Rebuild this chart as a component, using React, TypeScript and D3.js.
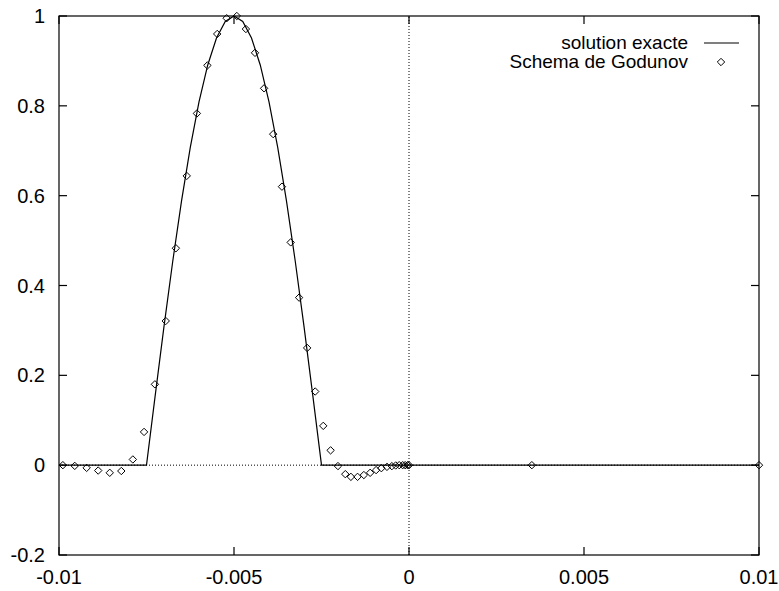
import React from "react";
import * as d3 from "d3";

const xTicks = [-0.01, -0.005, 0, 0.005, 0.01];
const xTickLabels = ["-0.01", "-0.005", "0", "0.005", "0.01"];
const yTicks = [-0.2, 0, 0.2, 0.4, 0.6, 0.8, 1];
const yTickLabels = ["-0.2", "0", "0.2", "0.4", "0.6", "0.8", "1"];

const exactX = [
  -0.01, -0.0075, -0.00725, -0.007, -0.00675, -0.0065, -0.00625, -0.006, -0.00575,
  -0.0055, -0.00525, -0.005, -0.00475, -0.0045, -0.00425, -0.004, -0.00375, -0.0035,
  -0.00325, -0.003, -0.00275, -0.0025, 0.01,
];
const exactY = [
  0, 0, 0.156, 0.309, 0.454, 0.588, 0.707, 0.809, 0.891, 0.951, 0.988, 1, 0.988,
  0.951, 0.891, 0.809, 0.707, 0.588, 0.454, 0.309, 0.156, 0, 0,
];

const godX = [
  -0.00989, -0.00955, -0.00921, -0.00888, -0.00855, -0.00822, -0.00789, -0.00757,
  -0.00726, -0.00695, -0.00666, -0.00635, -0.00606, -0.00576, -0.00548, -0.00521,
  -0.00492, -0.00466, -0.0044, -0.00414, -0.00388, -0.00363, -0.00338, -0.00314,
  -0.00291, -0.00268, -0.00245, -0.00224, -0.00203, -0.00182, -0.00166, -0.00147,
  -0.00129, -0.00111, -0.00094, -0.00079, -0.00063, -0.00049, -0.00038, -0.00028,
  -0.00018, -0.00011, -0.00004, 0.0, 0.00351, 0.01,
];
const godY = [
  0, -0.0016, -0.006, -0.012, -0.017, -0.013, 0.0127, 0.074, 0.18, 0.321, 0.483,
  0.644, 0.783, 0.89, 0.96, 0.995, 1.0, 0.971, 0.918, 0.839, 0.737, 0.62, 0.496,
  0.373, 0.261, 0.164, 0.0875, 0.033, -0.002, -0.02, -0.026, -0.026, -0.022,
  -0.017, -0.011, -0.0067, -0.0038, -0.0022, -0.0007, 0, 0, 0, 0, 0, 0, 0,
];

const seriesNames = ["solution exacte", "Schema de Godunov"];

const W = 779;
const H = 591;
const FONT = "'Liberation Sans', Arial, Helvetica, sans-serif";

export default function App() {
  const x = d3.scaleLinear().domain([-0.01, 0.01]).range([59, 759]);
  const y = d3.scaleLinear().domain([-0.2, 1]).range([555, 16]);
  const [x0, x1] = x.range();
  const [y0, y1] = y.range();
  const tickLen = 8;

  const exactData = exactX.map((v, i) => [v, exactY[i]] as [number, number]);
  const line = d3
    .line<[number, number]>()
    .x((d) => x(d[0]))
    .y((d) => y(d[1]));

  const diamond = (cx: number, cy: number, r = 3.7) =>
    `M${cx},${cy - r}L${cx + r},${cy}L${cx},${cy + r}L${cx - r},${cy}Z`;

  return (
    <svg
      width={W}
      height={H}
      style={{ position: "absolute", left: 0, top: 0, background: "#fff" }}
      fontFamily={FONT}
    >
      <rect x={0} y={0} width={W} height={H} fill="#fff" />
      {/* zero axes */}
      <line x1={x0} x2={x1} y1={y(0)} y2={y(0)} stroke="#000" strokeWidth={1} strokeDasharray="1,2" />
      <line x1={x(0)} x2={x(0)} y1={y0} y2={y1} stroke="#000" strokeWidth={1} strokeDasharray="1,2" />

      {/* ticks */}
      {xTicks.map((t, i) => (
        <g key={"xt" + i}>
          <line x1={x(t)} x2={x(t)} y1={y0} y2={y0 - tickLen} stroke="#000" strokeWidth={1.2} />
          <line x1={x(t)} x2={x(t)} y1={y1} y2={y1 + tickLen} stroke="#000" strokeWidth={1.2} />
          <text x={x(t)} y={584} textAnchor="middle" fontSize={20}>
            {xTickLabels[i]}
          </text>
        </g>
      ))}
      {yTicks.map((t, i) => (
        <g key={"yt" + i}>
          <line x1={x0} x2={x0 + tickLen} y1={y(t)} y2={y(t)} stroke="#000" strokeWidth={1.2} />
          <line x1={x1} x2={x1 - tickLen} y1={y(t)} y2={y(t)} stroke="#000" strokeWidth={1.2} />
          <text x={45} y={y(t) + 7} textAnchor="end" fontSize={20}>
            {yTickLabels[i]}
          </text>
        </g>
      ))}

      {/* exact solution */}
      <path d={line(exactData) || ""} fill="none" stroke="#000" strokeWidth={1.2} />

      {/* Godunov points */}
      {godX.map((v, i) => (
        <path key={"g" + i} d={diamond(x(v), y(godY[i]))} fill="none" stroke="#000" strokeWidth={1} />
      ))}

      {/* frame */}
      <rect x={x0} y={y1} width={x1 - x0} height={y0 - y1} fill="none" stroke="#000" strokeWidth={1.2} />

      {/* legend */}
      <text x={688} y={49} textAnchor="end" fontSize={19}>
        {seriesNames[0]}
      </text>
      <line x1={704} x2={739} y1={43} y2={43} stroke="#000" strokeWidth={1.2} />
      <text x={688} y={68} textAnchor="end" fontSize={19}>
        {seriesNames[1]}
      </text>
      <path d={diamond(721, 62)} fill="none" stroke="#000" strokeWidth={1} />
    </svg>
  );
}
